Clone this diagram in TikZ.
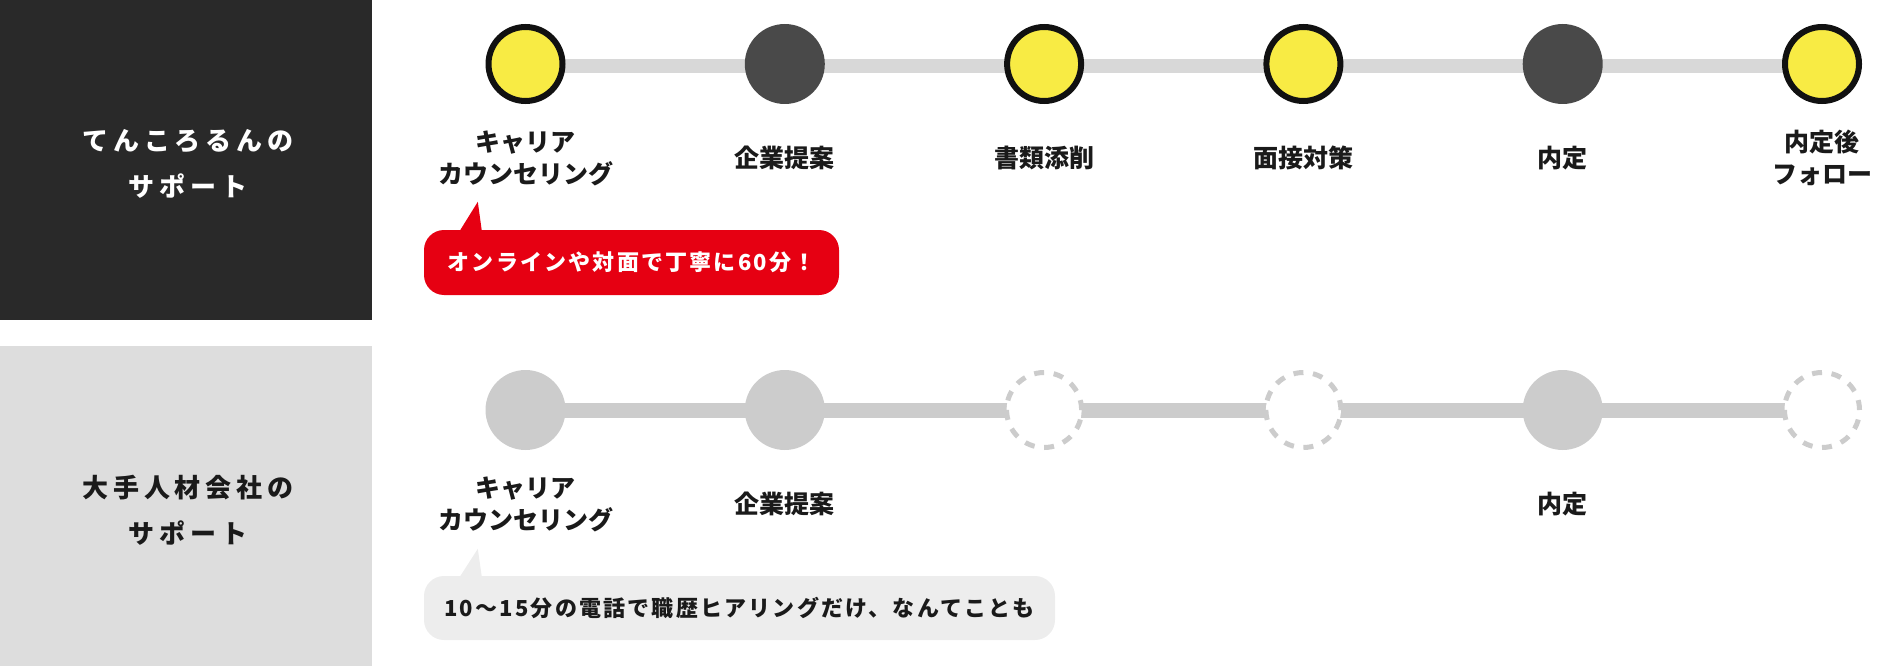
\documentclass[tikz,border=0pt]{standalone}
\usepackage{fontspec}
\setmainfont{Noto Sans CJK JP}
\newfontfamily\hdfont{Noto Sans CJK JP}[LetterSpace=18]
\newfontfamily\bubfont{Noto Sans CJK JP}[LetterSpace=10]
\usetikzlibrary{calc,backgrounds}
\newcommand\mytightlines{\lineskiplimit=-50pt\relax\lineskip=0pt\relax}
\definecolor{cyel}{HTML}{F8EB44}
\definecolor{cblk}{HTML}{111111}
\definecolor{cdrk}{HTML}{494949}
\definecolor{clgt}{HTML}{CCCCCC}
\definecolor{ctop}{HTML}{D8D8D8}
\definecolor{cbox}{HTML}{292929}
\definecolor{cboxl}{HTML}{DDDDDD}
\definecolor{cred}{HTML}{E60012}
\definecolor{cbub}{HTML}{EDEDED}
\definecolor{ctxt}{HTML}{1A1A1A}
\begin{document}
\begin{tikzpicture}[x=1pt,y=-1pt,
  yel/.style={circle, fill=cyel, draw=cblk, line width=6pt, minimum size=74pt, inner sep=0pt},
  drk/.style={circle, fill=cdrk, minimum size=80pt, inner sep=0pt},
  lgt/.style={circle, fill=clgt, minimum size=80pt, inner sep=0pt},
  dsh/.style={circle, fill=white, draw=clgt, line width=5pt, dash pattern=on 10pt off 9.63pt, minimum size=75pt, inner sep=0pt},
  lbl/.style={font=\bfseries\fontsize{25}{32}\selectfont\mytightlines, align=center, anchor=base, text=ctxt, inner sep=0pt},
  hd/.style={font=\hdfont\bfseries\fontsize{26}{46}\selectfont\mytightlines, align=center, anchor=base, inner sep=0pt},
  bub/.style={rounded corners=20pt, inner sep=0pt, text height=18.4pt, text depth=1.6pt, font=\bubfont\bfseries\fontsize{22}{22}\selectfont},
  topline/.style={draw=ctop, line width=14pt},
  botline/.style={draw=clgt, line width=15pt}
]
\useasboundingbox (0,0) rectangle (1879,666);
% left boxes
\node[fill=cbox, minimum width=372pt, minimum height=320pt, inner sep=0pt, anchor=north west] (boxa) at (0,0) {};
\node[fill=cboxl, minimum width=372pt, minimum height=320pt, inner sep=0pt, anchor=north west] (boxb) at (0,346) {};
\node[hd, text=white] (ha) at (188,196) {てんころるんの\\サポート};
\node[hd, text=ctxt] (hb) at (188,543) {大手人材会社の\\サポート};

% top row
\node[yel] (a1) at (525.5,64) {};
\node[drk] (a2) at (784.8,64) {};
\node[yel] (a3) at (1044.1,64) {};
\node[yel] (a4) at (1303.4,64) {};
\node[drk] (a5) at (1562.7,64) {};
\node[yel] (a6) at (1822,64) {};

\node[lbl] (ta1) at (525.5,183.5) {キャリア\\カウンセリング};
\node[lbl] (ta2) at (784.8,167.5) {企業提案};
\node[lbl] (ta3) at (1044.1,167.5) {書類添削};
\node[lbl] (ta4) at (1303.4,167.5) {面接対策};
\node[lbl] (ta5) at (1562.7,167.5) {内定};
\node[lbl] (ta6) at (1822,183.5) {内定後\\フォロー};

% red bubble
\node[bub, fill=cred, text=white, minimum width=415pt, minimum height=65pt] (rb) at (631.5,262.5) {オンラインや対面で丁寧に60分！};
\coordinate (rtip) at ($(rb.north west)+(54,-28)$);
\fill[cred] ($(rb.north west)+(36,1)$) -- (rtip) -- ($(rb.north west)+(58,1)$) -- cycle;

% bottom row
\node[lgt] (b1) at (525.5,410) {};
\node[lgt] (b2) at (784.8,410) {};
\node[dsh] (b3) at (1044.1,410) {};
\node[dsh] (b4) at (1303.4,410) {};
\node[lgt] (b5) at (1562.7,410) {};
\node[dsh] (b6) at (1822,410) {};

\begin{scope}[on background layer]
\path[topline] ([yshift=-2pt]a1.center) -- ([yshift=-2pt]a6.center);
\path[botline] (b1.center) -- (b6.center);
\end{scope}

\node[lbl] (tb1) at (525.5,529.5) {キャリア\\カウンセリング};
\node[lbl] (tb2) at (784.8,513.5) {企業提案};
\node[lbl] (tb5) at (1562.7,513.5) {内定};

% gray bubble
\node[bub, fill=cbub, text=ctxt, minimum width=631pt, minimum height=64pt] (gb) at (739.5,608) {10〜15分の電話で職歴ヒアリングだけ、なんてことも};
\coordinate (gtip) at ($(gb.north west)+(54,-27)$);
\fill[cbub] ($(gb.north west)+(36,1)$) -- (gtip) -- ($(gb.north west)+(58,1)$) -- cycle;
\end{tikzpicture}
\end{document}
